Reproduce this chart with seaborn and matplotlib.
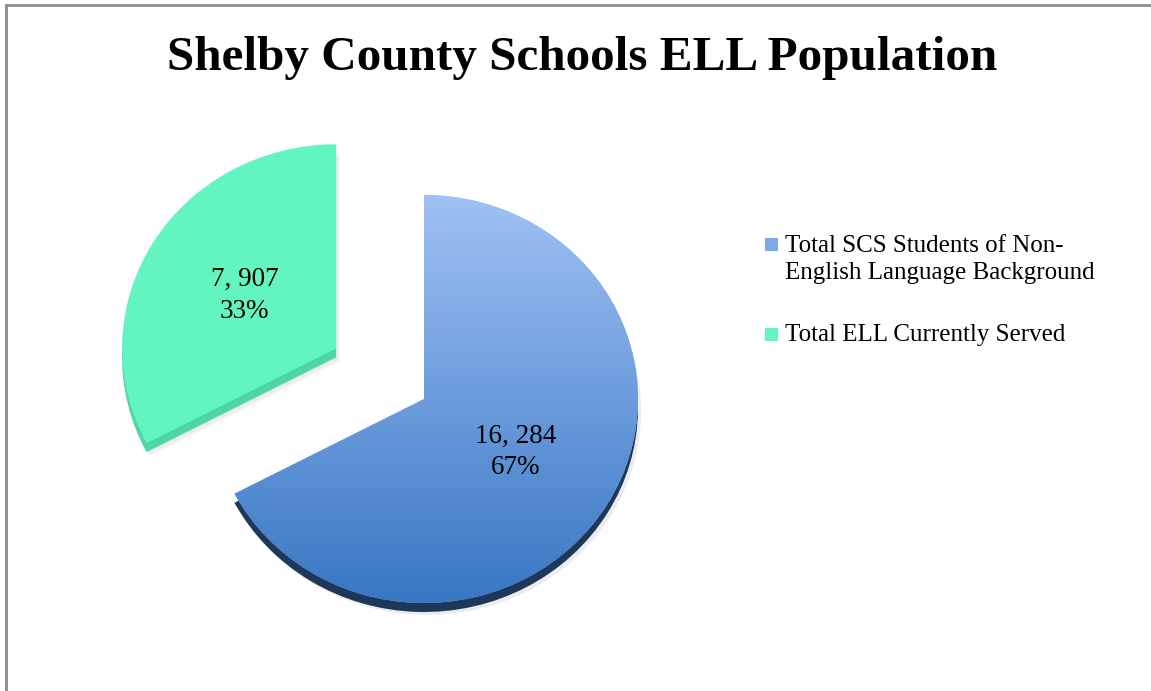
import numpy as np
import matplotlib
matplotlib.use("Agg")
import matplotlib.pyplot as plt
from matplotlib.patches import Wedge, Rectangle
from matplotlib.lines import Line2D
import seaborn as sns

# ---------------- data ----------------
categories = ["Total SCS Students of Non-\nEnglish Language Background",
              "Total ELL Currently Served"]
values = [16284, 7907]
count_labels = ["16, 284", "7, 907"]
percent_labels = ["67%", "33%"]
title = "Shelby County Schools ELL Population"

# ---------------- style ----------------
sns.set_theme(style="white")
plt.rcParams['font.family'] = ['Liberation Serif', 'DejaVu Serif']

blue_top, blue_bot = "#A0C1F4", "#3877C4"
blue_side = "#1D3859"
green_face = "#62F5C0"
green_side = "#4FD6A2"
legend_blue = "#7EA9E8"
legend_green = "#62F5C0"

W, H = 1151, 691
fig = plt.figure(figsize=(W / 100, H / 100), dpi=100)
fig.patch.set_facecolor("white")

cx, cy = 424, 399      # pie centre, px from top-left
rx, ry = 214, 204      # slight tilt: horizontal / vertical radius in px
ax = fig.add_axes([0, 0, 1, 1])

_idx = iter(range(len(values)))
def _autopct(pct):
    i = next(_idx)
    return f"{count_labels[i]}\n{percent_labels[i]}"

wedges, _, autotexts = ax.pie(
    values, startangle=90, counterclock=False, explode=[0, 0.48],
    radius=1, center=(0, 0), colors=[blue_top, green_face],
    autopct=_autopct, pctdistance=0.5,
    wedgeprops=dict(linewidth=0),
    textprops=dict(fontsize=19.5, color="black"))

# 3D depth + soft shadow derived from the wedges
depth = 9 / ry
sides = [blue_side, green_side]
for w, sc in zip(wedges, sides):
    w.set_zorder(3)
    sh = Wedge((w.center[0] + 0.015, w.center[1] - depth - 0.015), w.r,
               w.theta1, w.theta2, facecolor="#9a9a9a", alpha=0.18,
               linewidth=0, zorder=1)
    ax.add_patch(sh)
    side = Wedge((w.center[0], w.center[1] - depth), w.r, w.theta1, w.theta2,
                 facecolor=sc, linewidth=0, zorder=2)
    ax.add_patch(side)

# vertical gradient on the big slice
grad = np.array(sns.blend_palette([blue_bot, blue_top], n_colors=256))
img = grad[:, None, :]
im = ax.imshow(img, extent=(-1, 1, -1, 1), origin="lower", aspect="auto",
               interpolation="bilinear", zorder=3.5)
im.set_clip_path(wedges[0])

for t in autotexts:
    t.set_zorder(5)
    t.set_linespacing(1.33)

ax.set_xlim(-cx / rx, (W - cx) / rx)
ax.set_ylim(-(H - cy) / ry, cy / ry)
ax.set_aspect("auto")
ax.axis("off")

# ---------------- title ----------------
fig.text(582 / W, 1 - 70 / H, title, ha="center", va="baseline",
         fontsize=35.4, fontweight="bold", color="black")

# ---------------- legend ----------------
leg_colors = [legend_blue, legend_green]
sq_tops = [238, 328]
text_baselines = [252, 341]
line_gap = 27
for cat, col, st, tb in zip(categories, leg_colors, sq_tops, text_baselines):
    fig.add_artist(Rectangle((765 / W, 1 - (st + 13) / H), 13 / W, 13 / H,
                             transform=fig.transFigure, facecolor=col,
                             edgecolor="none"))
    for k, line in enumerate(cat.split("\n")):
        fig.text(785 / W, 1 - (tb + k * line_gap) / H, line, ha="left",
                 va="baseline", fontsize=18, color="black")

# ---------------- frame lines ----------------
fig.add_artist(Line2D([6 / W, 1], [1 - 4.5 / H, 1 - 4.5 / H],
                      transform=fig.transFigure, color="#8c8c8c", lw=2))
fig.add_artist(Line2D([6 / W, 6 / W], [0, 1 - 4.5 / H],
                      transform=fig.transFigure, color="#8c8c8c", lw=2))

fig.savefig("out.png", dpi=100)
